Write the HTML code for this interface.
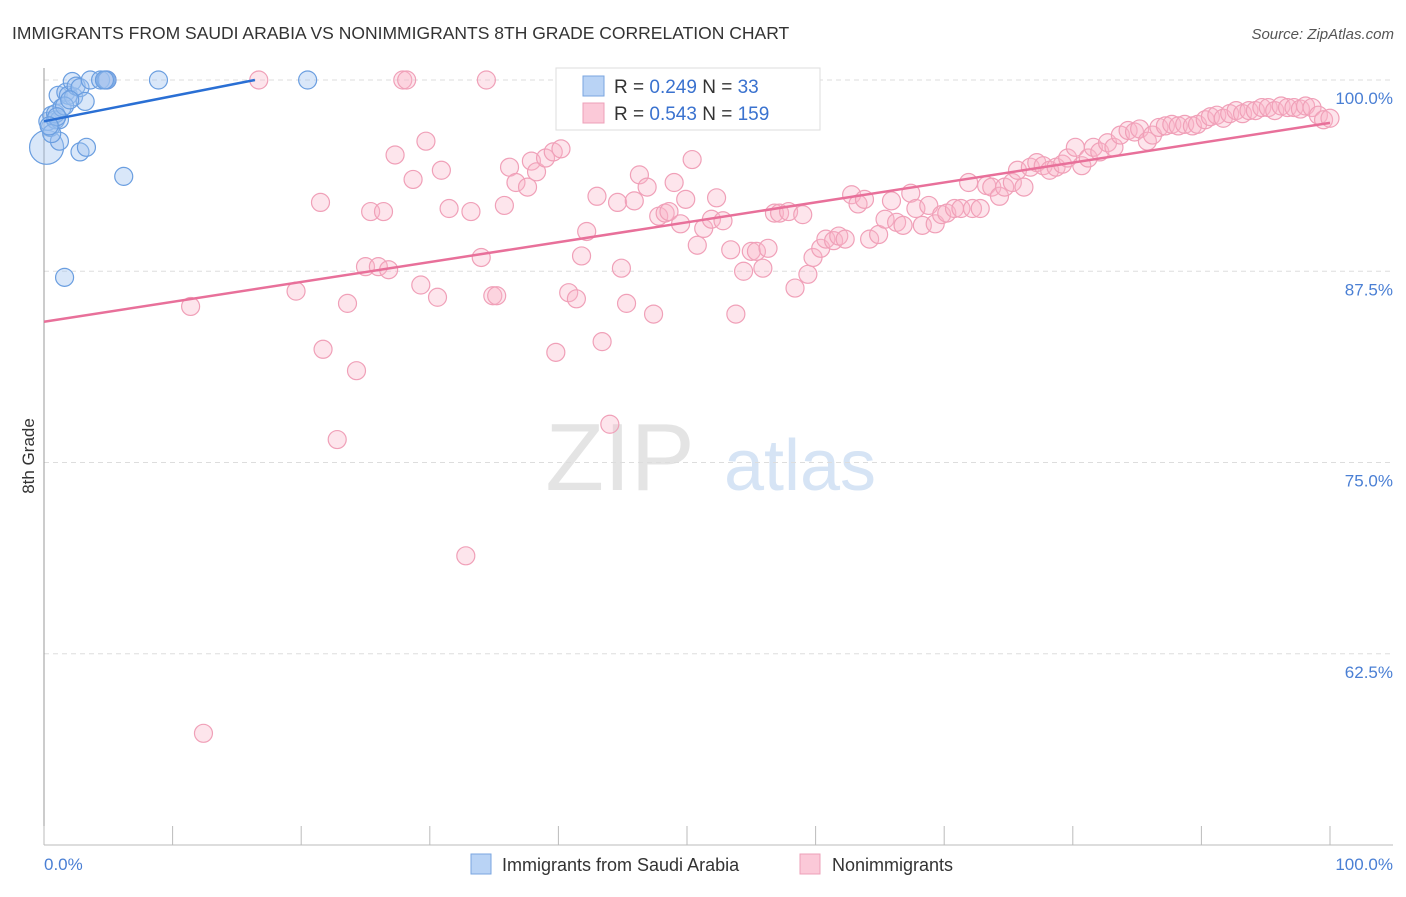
<!DOCTYPE html>
<html><head><meta charset="utf-8"><style>
body{margin:0;background:#fff;font-family:"Liberation Sans",sans-serif;}
svg text{font-family:"Liberation Sans",sans-serif;}
</style></head><body>
<svg id="c" width="1406" height="892" xmlns="http://www.w3.org/2000/svg">
<text x="12" y="39" font-size="17.5" fill="#333">IMMIGRANTS FROM SAUDI ARABIA VS NONIMMIGRANTS 8TH GRADE CORRELATION CHART</text>
<text x="1394" y="39" font-size="15" fill="#555" font-style="italic" text-anchor="end">Source: ZipAtlas.com</text>
<text x="620" y="490" font-size="96" fill="#e4e4e4" font-family="Liberation Serif" text-anchor="middle">ZIP</text>
<text x="800" y="490" font-size="72" fill="#d6e4f5" text-anchor="middle">atlas</text>
<g id="grid"></g><g id="pts"></g><g id="trend"></g>
<text transform="translate(34,456) rotate(-90)" font-size="17" fill="#333" text-anchor="middle">8th Grade</text>
<text x="44" y="870" font-size="17" fill="#4a7fd4">0.0%</text>
<text x="1393" y="870" font-size="17" fill="#4a7fd4" text-anchor="end">100.0%</text>
<g>
<rect x="471" y="854" width="20" height="20" fill="#b9d3f5" stroke="#7aa6e0"/>
<text x="502" y="871" font-size="18" fill="#333">Immigrants from Saudi Arabia</text>
<rect x="800" y="854" width="20" height="20" fill="#fbc9d8" stroke="#eea0b8"/>
<text x="832" y="871" font-size="18" fill="#333">Nonimmigrants</text>
</g>
<g>
<rect x="556" y="68" width="264" height="62" fill="#fff" stroke="#ddd"/>
<rect x="583" y="76" width="21" height="20" fill="#b9d3f5" stroke="#7aa6e0"/>
<rect x="583" y="103" width="21" height="20" fill="#fbc9d8" stroke="#eea0b8"/>
<text x="614" y="93" font-size="19" fill="#333">R = <tspan fill="#3a72cf">0.249</tspan>   N = <tspan fill="#3a72cf">  33</tspan></text>
<text x="614" y="120" font-size="19" fill="#333">R = <tspan fill="#3a72cf">0.543</tspan>   N = <tspan fill="#3a72cf">159</tspan></text>
</g>
</svg>
<script>
const yTicks=[100,87.5,75,62.5];
const yTickLabels=["100.0%","87.5%","75.0%","62.5%"];
const xTicks=[0,10,20,30,40,50,60,70,80,90,100];
const blueX=[0.2,0.5,0.3,0.6,0.9,1.2,0.9,1.1,1.4,1.7,1.9,2.2,2.3,2.5,2.8,3.2,3.6,4.4,4.8,1.2,2.8,3.3,6.2,8.9,20.5,1.6,0.6,1.6,2.0,4.9,4.7,1.0,0.4];
const blueY=[95.6,96.9,97.3,97.7,97.4,97.4,97.8,99.0,98.2,99.2,99.0,99.9,98.9,99.6,99.5,98.6,100,100,100,96.0,95.3,95.6,93.7,100,100,87.1,96.5,98.3,98.7,100,100,97.6,97.0];
const blueR=[17,9,9,9,9,9,9,9,9,9,9,9,9,9,9,9,9,9,9,9,9,9,9,9,9,9,9,9,9,9,9,9,9];
const pinkX=[4.9,16.7,27.9,28.2,34.4,11.4,19.6,21.5,21.7,22.8,23.6,24.3,25.0,25.4,26.4,26.0,26.8,27.3,28.7,29.3,29.7,30.6,30.9,31.5,33.2,32.8,34.0,34.9,35.2,35.8,36.2,36.7,37.6,37.9,38.3,39.0,39.6,40.2,39.8,40.8,41.4,41.8,42.2,43.0,43.4,44.0,44.6,44.9,45.3,45.9,46.3,46.9,47.4,47.8,48.3,48.6,49.0,49.5,49.9,50.4,50.8,51.3,51.9,52.3,52.8,53.4,53.8,54.4,55.0,55.4,55.9,56.3,56.8,57.2,57.9,58.4,59.0,59.4,59.8,60.4,60.8,61.4,61.8,62.3,62.8,63.3,63.8,64.2,64.9,65.4,65.9,66.3,66.8,67.4,67.8,68.3,68.8,69.3,69.8,70.2,70.8,71.3,71.9,72.2,72.8,73.3,73.7,74.3,74.7,75.3,75.7,76.2,76.7,77.2,77.7,78.2,78.7,79.2,79.6,80.2,80.7,81.2,81.6,82.1,82.7,83.2,83.7,84.3,84.8,85.2,85.8,86.2,86.7,87.2,87.7,88.2,88.7,89.3,89.7,90.3,90.7,91.2,91.7,92.2,92.7,93.2,93.7,94.2,94.7,95.2,95.7,96.2,96.7,97.2,97.7,98.1,98.6,99.1,99.5,100,12.4];
const pinkY=[100,100,100,100,100,85.2,86.2,92.0,82.4,76.5,85.4,81.0,87.8,91.4,91.4,87.8,87.6,95.1,93.5,86.6,96.0,85.8,94.1,91.6,91.4,68.9,88.4,85.9,85.9,91.8,94.3,93.3,93.0,94.7,94.0,94.9,95.3,95.5,82.2,86.1,85.7,88.5,90.1,92.4,82.9,77.5,92.0,87.7,85.4,92.1,93.8,93.0,84.7,91.1,91.3,91.4,93.3,90.6,92.2,94.8,89.2,90.3,90.9,92.3,90.8,88.9,84.7,87.5,88.8,88.8,87.7,89.0,91.3,91.3,91.4,86.4,91.2,87.3,88.4,89.0,89.6,89.5,89.8,89.6,92.5,91.9,92.2,89.6,89.9,90.9,92.1,90.7,90.5,92.6,91.6,90.5,91.8,90.6,91.2,91.3,91.6,91.6,93.3,91.6,91.6,93.1,93.0,92.4,93.0,93.3,94.1,93.0,94.3,94.6,94.4,94.1,94.3,94.5,94.9,95.6,94.4,94.9,95.6,95.3,95.9,95.6,96.4,96.7,96.6,96.8,96.0,96.4,96.9,97.0,97.1,97.0,97.1,97.0,97.1,97.4,97.6,97.7,97.5,97.8,98.0,97.8,98.0,98.0,98.2,98.2,98.0,98.3,98.2,98.2,98.1,98.3,98.2,97.7,97.4,97.5,57.3];
const blueTrend={x:[0,16.4],y:[97.3,100]};
const pinkTrend={x:[0,100],y:[84.2,97.2]};
const NS="http://www.w3.org/2000/svg";
const X0=44,X1=1330,Y100=80,Y50=845;
function sx(v){return X0+(X1-X0)*v/100;}
function sy(v){return Y100+(100-v)*(Y50-Y100)/50;}
function mk(tag,attrs,parent){const e=document.createElementNS(NS,tag);for(const k in attrs)e.setAttribute(k,attrs[k]);parent.appendChild(e);return e;}
const grid=document.getElementById('grid');
yTicks.forEach((t,i)=>{
  const l=mk('line',{x1:X0,x2:1393,y1:sy(t),y2:sy(t),stroke:'#ddd','stroke-dasharray':'5,4'},grid);
  
  
  const tx=mk('text',{x:1393,y:sy(t)+24,'font-size':17,fill:'#4a7fd4','text-anchor':'end'},grid);
  tx.textContent=yTickLabels[i];
  
  
});
const ax=mk('line',{x1:X0,x2:X0,y1:68,y2:Y50,stroke:'#999'},grid);


const bx=mk('line',{x1:X0,x2:1393,y1:Y50,y2:Y50,stroke:'#bbb'},grid);


xTicks.forEach(t=>{
  const l=mk('line',{x1:sx(t),x2:sx(t),y1:826,y2:Y50,stroke:'#bbb'},grid);
  
  
});
const pts=document.getElementById('pts');
pinkX.forEach((v,i)=>{
  const c=mk('circle',{cx:sx(v),cy:sy(pinkY[i]),r:9,fill:'rgba(248,180,200,0.35)',stroke:'#f0a0b8','stroke-width':1.2},pts);
  
  
});
blueX.forEach((v,i)=>{
  const c=mk('circle',{cx:sx(v),cy:sy(blueY[i]),r:blueR[i],fill:'rgba(160,195,240,0.4)',stroke:'#6a9ee0','stroke-width':1.2},pts);
  
  
});
const tr=document.getElementById('trend');
const bl=mk('line',{x1:sx(blueTrend.x[0]),y1:sy(blueTrend.y[0]),x2:sx(blueTrend.x[1]),y2:sy(blueTrend.y[1]),stroke:'#2a6fd4','stroke-width':2.5},tr);


const pl=mk('line',{x1:sx(pinkTrend.x[0]),y1:sy(pinkTrend.y[0]),x2:sx(pinkTrend.x[1]),y2:sy(pinkTrend.y[1]),stroke:'#e8709a','stroke-width':2.5},tr);


</script>
</body></html>
